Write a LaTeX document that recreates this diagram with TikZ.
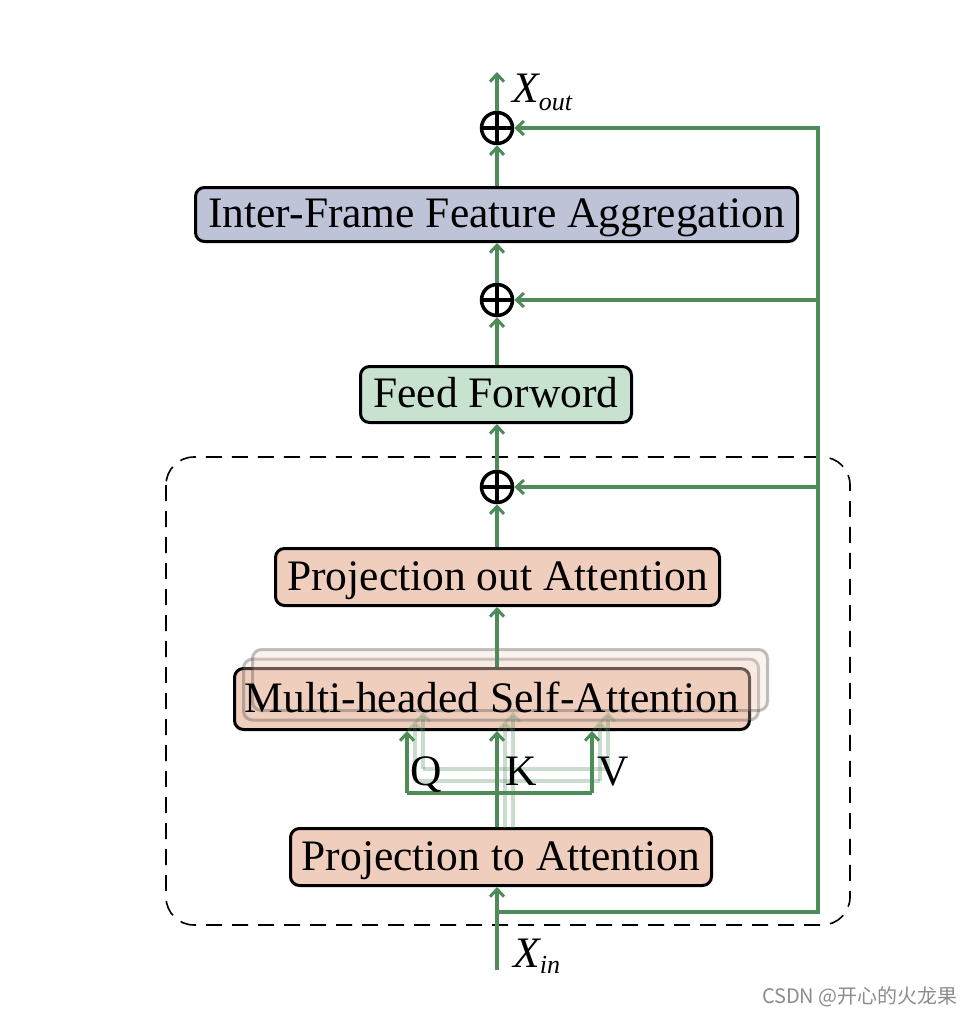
\documentclass[tikz,border=0pt]{standalone}
\usepackage{fontspec}
\setmainfont{Liberation Serif}
\newfontfamily\cjkfont{Noto Sans CJK SC}
\usetikzlibrary{arrows.meta}
\definecolor{gline}{RGB}{78,139,88}
\definecolor{lavender}{RGB}{190,195,216}
\definecolor{mint}{RGB}{200,226,208}
\definecolor{peach}{RGB}{240,206,190}
\begin{document}
\begin{tikzpicture}[x=1pt,y=-1pt,
  box/.style={draw=black, line width=3pt, rounded corners=9pt, inner sep=0pt,
    font=\fontsize{43.5}{50}\selectfont, text height=32pt, text depth=6pt},
  ghostbox/.style={draw=black!70, draw opacity=0.35, fill=peach, fill opacity=0.25,
    line width=3pt, rounded corners=9pt, inner sep=0pt},
  gl/.style={draw=gline, line width=3.5pt},
  conn/.style={gl, -{Straight Barb[length=7.5pt,width=14pt,line width=3pt]}},
  ghost/.style={draw=gline, draw opacity=0.3, line width=3.5pt},
  ghostconn/.style={ghost, -{Straight Barb[length=7.5pt,width=14pt,line width=3pt]}},
  plusnode/.style={circle, draw=black, line width=3.5pt, minimum size=31pt, inner sep=0pt,
    path picture={\draw[line width=3.5pt] (path picture bounding box.north) -- (path picture bounding box.south)
      (path picture bounding box.west) -- (path picture bounding box.east);}},
  lbl/.style={font=\fontsize{43.5}{50}\selectfont, inner sep=0pt},
  frame/.style={draw=black, line width=1.6pt, dash pattern=on 16pt off 10pt, rounded corners=28pt}
]
\useasboundingbox (0,0) rectangle (972,1014);

% dashed frame
\draw[frame] (166,457) rectangle (850,925);

% boxes
\node[box, fill=lavender, minimum width=602pt, minimum height=54pt] (iffa) at (496.5,214.5) {Inter-Frame Feature Aggregation};
\node[box, fill=mint, minimum width=271pt, minimum height=56pt] (ff) at (496,394.5) {Feed Forword};
\node[box, fill=peach, minimum width=444pt, minimum height=57pt] (poa) at (497.5,577) {Projection out Attention};
\node[box, fill=peach, minimum width=515pt, minimum height=61pt] (mhsa) at (492,699) {};
\node[ghostbox, minimum width=515pt, minimum height=61pt] (sh1) at (501,689.5) {};
\node[ghostbox, minimum width=515pt, minimum height=61pt] (sh2) at (510,680) {};
\node[lbl, text height=32pt, text depth=6pt] (mhsatext) at (mhsa) {Multi-headed Self-Attention};
\node[box, fill=peach, minimum width=421pt, minimum height=57pt] (pta) at (501,857) {Projection to Attention};

% plus nodes
\node[plusnode] (p1) at (497,128) {};
\node[plusnode] (p2) at (497,300) {};
\node[plusnode] (p3) at (497,487) {};

% coordinates
\coordinate (xout) at (497,72);
\coordinate (xin) at (497,970);
\coordinate (b0) at (497,912);
\coordinate (c0) at (818,912);
\coordinate (r1) at (818,128);
\coordinate (r2) at (818,300);
\coordinate (r3) at (818,487);
\coordinate (kx) at (497,0);
\coordinate (qb) at (407,793);
\coordinate (vb) at (592,793);

% ghost Q K V lines
\draw[ghost] (415,781) -- (600,781);
\draw[ghost] (423,769) -- (608,769);
\draw[ghostconn] (415,781) -- (415,721);
\draw[ghostconn] (600,781) -- (600,721);
\draw[ghostconn] (505,828) -- (505,721);
\draw[ghostconn] (423,769) -- (423,712);
\draw[ghostconn] (608,769) -- (608,712);
\draw[ghostconn] (513,828) -- (513,712);

% main connectors
\draw[conn] (xin) -- (kx |- pta.south);
\draw[conn] (b0) -- (c0) -- (r1) -- (p1.east);
\draw[conn] (r2) -- (p2.east);
\draw[conn] (r3) -- (p3.east);
\draw[conn] (kx |- pta.north) -- (kx |- mhsa.south);
\draw[gl] (qb) -- (vb);
\draw[conn] (qb) -- (qb |- mhsa.south);
\draw[conn] (vb) -- (vb |- mhsa.south);
\draw[conn] (kx |- mhsa.north) -- (kx |- poa.south);
\draw[conn] (kx |- poa.north) -- (p3.south);
\draw[conn] (p3.north) -- (kx |- ff.south);
\draw[conn] (kx |- ff.north) -- (p2.south);
\draw[conn] (p2.north) -- (kx |- iffa.south);
\draw[conn] (kx |- iffa.north) -- (p1.south);
\draw[conn] (p1.north) -- (xout);

% labels
\node[lbl, anchor=base] (lq) at (426,785) {Q};
\node[lbl, anchor=base] (lk) at (521,785) {K};
\node[lbl, anchor=base] (lv) at (613,785) {V};
\node[lbl, anchor=base west] (lxout) at (512,103) {\itshape X\raisebox{-7pt}{\fontsize{26}{26}\selectfont out}};
\node[lbl, anchor=base west] (lxin) at (513,967) {\itshape X\raisebox{-6pt}{\fontsize{26}{26}\selectfont in}};

% watermark
\node[anchor=east, inner sep=0pt, text=black!45] (wm) at (958,997) {\cjkfont\fontsize{20}{20}\selectfont CSDN @开心的火龙果};
\end{tikzpicture}
\end{document}
